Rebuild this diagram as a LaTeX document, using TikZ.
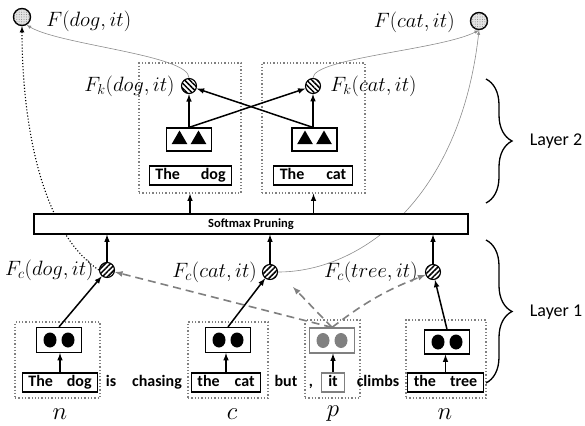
\documentclass[tikz,border=0pt]{standalone}
\usepackage{fontspec}
\setmainfont{Carlito}
\usetikzlibrary{positioning,patterns.meta,decorations.pathreplacing,shapes.geometric}

\begin{document}
\begin{tikzpicture}[
        x=1pt, y=1pt,
        grp/.style = {draw=gray, dotted, line width=1.3pt, inner sep=0pt}, % пунктирные группы
        word/.style = {draw, line width=1.1pt, font=\fontsize{16}{18}\selectfont\bfseries, text height=12pt, text depth=3.5pt, inner xsep=6pt, inner ysep=1.75pt}, % слова в рамке
        bare/.style = {font=\fontsize{16}{18}\selectfont\bfseries, text height=12pt, text depth=3.5pt, inner sep=0pt, anchor=base}, % слова без рамки
        unit/.style = {draw, line width=1.2pt, minimum width=45pt, minimum height=25pt, inner sep=0pt},
        blob/.style = {ellipse, fill, minimum width=13pt, minimum height=15pt, inner sep=0pt},
        tri/.style = {regular polygon, regular polygon sides=3, fill, minimum size=18pt, inner sep=0pt},
        fk/.style = {circle, draw, line width=1.1pt, minimum size=15pt, inner sep=0pt, pattern color=black, pattern={Lines[angle=-45, distance=3.6pt, line width=1.5pt]}},
        fc/.style = {fk, pattern={Lines[angle=45, distance=3.6pt, line width=1.5pt]}},
        fout/.style = {circle, draw, line width=1.4pt, minimum size=17pt, inner sep=0pt, fill=gray!20, postaction={pattern={Dots[distance=2.4pt, radius=0.5pt]}, pattern color=gray}},
        lbl/.style = {font=\fontsize{20}{24}\selectfont, inner sep=0pt}, % формулы
        arr/.style = {-latex, line width=1.5pt},
        dashy/.style = {-latex, draw=gray, line width=1.6pt, dash pattern=on 8pt off 5pt},
        faint/.style = {-latex, draw=black!45, line width=0.6pt},
        brc/.style = {decorate, decoration={brace, amplitude=26pt}, line width=1.3pt},
    ]
    \useasboundingbox (0,0) rectangle (585,-425);

    % выходы
    \node[fout] (fdog) at (22,-17) {};
    \node[fout] (fcat) at (479,-21) {};
    \node[lbl, right=15pt of fdog, yshift=-4pt] (lfdog) {$F(dog,it)$};
    \node[lbl, left=15pt of fcat, yshift=-1pt] (lfcat) {$F(cat,it)$};

    % второй слой
    \node[grp, minimum width=102pt, minimum height=130pt] (gkdog) at (190,-128) {};
    \node[grp, minimum width=103pt, minimum height=130pt] (gkcat) at (313.5,-128) {};
    \node[fk] (fkdog) at (189,-86) {};
    \node[fk] (fkcat) at (313,-86) {};
    \node[lbl, left=6pt of fkdog] (lfkdog) {$F_k(dog,it)$};
    \node[lbl, right=9pt of fkcat] (lfkcat) {$F_k(cat,it)$};
    \node[unit, minimum height=23pt] (tdog) at (189,-139.5) {};
    \node[unit, minimum height=23pt] (tcat) at (314.5,-139.5) {};
    \foreach \s/\n in {-9.5/a, 9.5/b} {
        \node[tri] (tdog\n) at ([xshift=\s pt]tdog.center) {};
        \node[tri] (tcat\n) at ([xshift=\s pt]tcat.center) {};
    }
    \node[word] (kdog) at (190.5,-175.5) {The\hspace{21pt}dog};
    \node[word] (kcat) at (313,-175.5) {The\hspace{22pt}cat};

    % первый слой
    \node[fc] (fcdog) at (107,-270) {};
    \node[fc] (fccat) at (270,-272) {};
    \node[fc] (fctree) at (433,-272) {};
    \node[lbl, left=5pt of fcdog] (lfcdog) {$F_c(dog,it)$};
    \node[lbl, left=5pt of fccat] (lfccat) {$F_c(cat,it)$};
    \node[lbl, left=7pt of fctree] (lfctree) {$F_c(tree,it)$};

    % кривые к выходам
    \draw[dotted, line width=1.1pt, -latex] (fcdog.west) .. controls (40,-230) and (22,-120) .. (fdog.south);
    \draw[faint] (fkdog.north) .. controls (189,-55) and (60,-45) .. (fdog.-60);
    \draw[faint] (fkcat.north) .. controls (313,-58) and (440,-50) .. (fcat.south);
    \draw[faint] (fccat.east) .. controls (360,-272) and (460,-200) .. (fcat.south);

    % отсечение
    \node[draw, line width=1.2pt, fill=white, minimum width=434pt, minimum height=20pt, font=\fontsize{12.5}{14}\selectfont\bfseries] (prune) at (251,-224) {Softmax Pruning};

    % нижний ряд
    \node[grp, minimum width=85pt, minimum height=76pt] (gdog) at (57.5,-360) {};
    \node[grp, minimum width=80pt, minimum height=76pt] (gcat) at (228,-360) {};
    \node[grp, minimum width=55pt, minimum height=78pt] (git) at (332.5,-359) {};
    \node[grp, minimum width=80pt, minimum height=78pt] (gtree) at (446,-359) {};
    \node[unit] (edog) at (59,-340) {};
    \node[unit] (ecat) at (228,-340) {};
    \node[unit, draw=gray] (eit) at (332,-340.5) {};
    \node[unit, minimum height=24pt] (etree) at (447,-342) {};
    \foreach \e in {edog, ecat, etree} {
        \node[blob] (\e a) at ([xshift=-9pt]\e.center) {};
        \node[blob] (\e b) at ([xshift=9pt]\e.center) {};
    }
    \node[blob, gray] (eita) at ([xshift=-9pt]eit.center) {};
    \node[blob, gray] (eitb) at ([xshift=9pt]eit.center) {};

    \node[word] (wdog) at (60,-382.5) {The\hspace{14pt}dog};
    \node[word] (wcat) at (226,-382.5) {the\hspace{15pt}cat};
    \node[word, draw=gray, inner xsep=7pt] (wit) at (333,-382.5) {it};
    \node[word] (wtree) at (445.5,-382.5) {the\hspace{14pt}tree};
    \node[bare] (wis) at (111,-386.75) {is};
    \node[bare] (wchasing) at (157,-386.75) {chasing};
    \node[bare] (wbut) at (286,-386.75) {but};
    \node[bare] (wcomma) at (311,-386.75) {,};
    \node[bare] (wclimbs) at (378,-386.75) {climbs};

    \node[lbl, font=\fontsize{28}{30}\selectfont] (rdog) at (60,-414) {$n$};
    \node[lbl, font=\fontsize{28}{30}\selectfont] (rcat) at (232,-414) {$c$};
    \node[lbl, font=\fontsize{28}{30}\selectfont] (rit) at (333,-414) {$p$};
    \node[lbl, font=\fontsize{28}{30}\selectfont] (rtree) at (445,-414) {$n$};

    % стрелки
    \draw[arr] (prune.north -| gkdog.south) -- (gkdog.south);
    \draw[arr] (prune.north -| gkcat.south) -- (gkcat.south);
    \draw[arr] (tdog.north -| fkdog) -- (fkdog);
    \draw[arr] (tcat.north -| fkcat) -- (fkcat);
    \draw[arr] (tdog.north -| fkdog) -- (fkcat);
    \draw[arr] (tcat.north -| fkcat) -- (fkdog);
    \foreach \f in {fcdog, fccat, fctree}
        \draw[arr] (\f) -- (\f |- prune.south);
    \draw[arr] (edog.north) -- (fcdog);
    \draw[arr] (ecat.north) -- (fccat);
    \draw[arr] (etree.north) -- (fctree);
    \foreach \w/\e in {wdog/edog, wcat/ecat, wit/eit, wtree/etree}
        \draw[arr] (\w.north) -- (\w.north |- \e.south);

    % от местоимения
    \coordinate (itend) at (293,-287);
    \draw[dashy] (eit.north) -- (fcdog);
    \draw[dashy] (eit.north) -- (itend);
    \draw[dashy] (eit.north) to[bend left=8] (fctree);

    % слои
    \draw[brc] (486,-79) -- (486,-203);
    \draw[brc] (486,-240) -- (486,-383);
    \node[font=\fontsize{18}{20}\selectfont] (lay2) at (556,-141) {Layer 2};
    \node[font=\fontsize{18}{20}\selectfont] (lay1) at (556,-312) {Layer 1};
\end{tikzpicture}
\end{document}
